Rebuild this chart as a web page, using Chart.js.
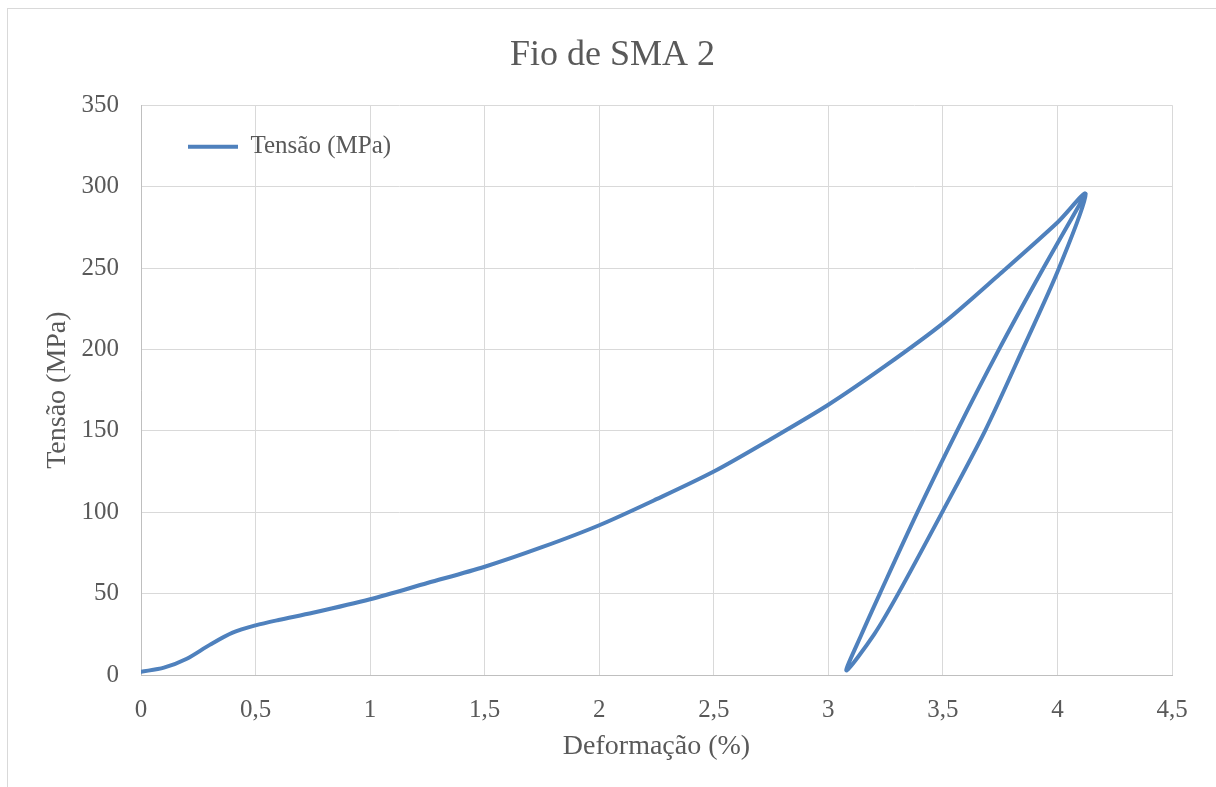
<!DOCTYPE html>
<html>
<head>
<meta charset="utf-8">
<script src="https://cdn.jsdelivr.net/npm/chart.js@4/dist/chart.umd.min.js"></script>
<style>
  html, body { margin: 0; padding: 0; background: #fff; overflow: hidden; }
  #wrap {
    position: absolute; left: 7px; top: 8px;
    width: 1209px; height: 779px;
    border-left: 1px solid #d9d9d9; border-top: 1px solid #d9d9d9;
  }
</style>
</head>
<body>
<div id="wrap"><canvas id="sma-chart" width="1209" height="779"></canvas></div>
<script>
// loading curve
const loadX = [0, 0.1, 0.2, 0.3, 0.4, 0.5, 0.6, 0.75, 1.0, 1.25, 1.5, 1.75, 2.0, 2.25, 2.5, 2.75, 3.0, 3.25, 3.5, 3.75, 4.0, 4.123];
const loadY = [2, 4.5, 10, 18.5, 26, 30.5, 33.8, 38.2, 46.5, 56.5, 66.5, 78.5, 92, 108, 125, 145, 166, 190, 216, 246.5, 278, 295.5];
// unloading (right branch, going down)
const unloadX = [4.007, 3.848, 3.684, 3.497, 3.305, 3.2, 3.079];
const unloadY = [250, 200, 150, 100, 50, 25, 2.7];
// reloading (left branch, going up)
const reloadX = [3.145, 3.225, 3.389, 3.562, 3.745, 3.939, 4.123];
const reloadY = [25, 50, 100, 150, 200, 250, 295.5];

const xTicks = ['0', '0,5', '1', '1,5', '2', '2,5', '3', '3,5', '4', '4,5'];
const yTicks = ['0', '50', '100', '150', '200', '250', '300', '350'];

const textColor = '#595959';
const fontFamily = "'Liberation Serif', 'DejaVu Serif', serif";
const lineColor = '#4f81bd';

// build points in drawing order
const points = [];
[[loadX, loadY], [unloadX, unloadY], [reloadX, reloadY]].forEach(pair => {
  pair[0].forEach((x, i) => points.push({x: x, y: pair[1][i]}));
});

// put the legend inside the plot, top-left, like the original
const legendInside = {
  id: 'legendInside',
  afterLayout(chart) {
    const lg = chart.legend;
    const area = chart.chartArea;
    const w = lg.width, h = lg.height;
    lg.left = area.left + 18;
    lg.top = area.top;
    lg.right = lg.left + w;
    lg.bottom = lg.top + h;
  }
};

var ctx = document.getElementById('sma-chart').getContext('2d');
var chart = new Chart(ctx, {
  type: 'scatter',
  data: {
    datasets: [{
      label: 'Tensão (MPa)',
      data: points,
      showLine: true,
      borderColor: lineColor,
      backgroundColor: lineColor,
      borderWidth: 4,
      borderCapStyle: 'round',
      borderJoinStyle: 'round',
      pointRadius: 0,
      pointHoverRadius: 0,
      tension: 0.3
    }]
  },
  options: {
    responsive: false,
    animation: false,
    layout: { padding: 0 },
    plugins: {
      title: {
        display: true,
        text: 'Fio de SMA 2',
        color: textColor,
        font: { family: fontFamily, size: 36, weight: 'normal', lineHeight: 1.2 },
        padding: { top: 25, bottom: 28 }
      },
      legend: {
        position: 'chartArea',
        align: 'start',
        labels: {
          color: textColor,
          font: { family: fontFamily, size: 25 },
          usePointStyle: true,
          pointStyle: 'line',
          pointStyleWidth: 50,
          padding: 29
        }
      },
      tooltip: { enabled: false }
    },
    scales: {
      x: {
        type: 'linear',
        min: 0,
        max: 4.5,
        afterFit(scale) { scale.height = 113; },
        ticks: {
          stepSize: 0.5,
          color: textColor,
          font: { family: fontFamily, size: 25 },
          padding: 20,
          callback: (v, i) => xTicks[i]
        },
        grid: { color: '#d9d9d9', drawTicks: false },
        border: { color: '#bfbfbf' },
        title: {
          display: true,
          text: 'Deformação (%)',
          color: textColor,
          font: { family: fontFamily, size: 28, lineHeight: 1.2 },
          padding: { top: 0, bottom: 25 }
        }
      },
      y: {
        type: 'linear',
        min: 0,
        max: 350,
        afterFit(scale) { scale.width = 133; },
        ticks: {
          stepSize: 50,
          color: textColor,
          font: { family: fontFamily, size: 25 },
          padding: 22,
          callback: (v, i) => yTicks[i]
        },
        grid: { color: '#d9d9d9', drawTicks: false },
        border: { color: '#bfbfbf' },
        title: {
          display: true,
          text: 'Tensão (MPa)',
          color: textColor,
          font: { family: fontFamily, size: 28, lineHeight: 1.2 },
          padding: { top: 33, bottom: 0 }
        }
      },
      // empty right-hand axis, only to leave the margin on the right
      y2: {
        position: 'right',
        min: 0,
        max: 350,
        afterFit(scale) { scale.width = 45; },
        ticks: { display: false },
        grid: { display: false },
        border: { display: false }
      }
    }
  },
  plugins: [legendInside]
});
</script>
</body>
</html>
